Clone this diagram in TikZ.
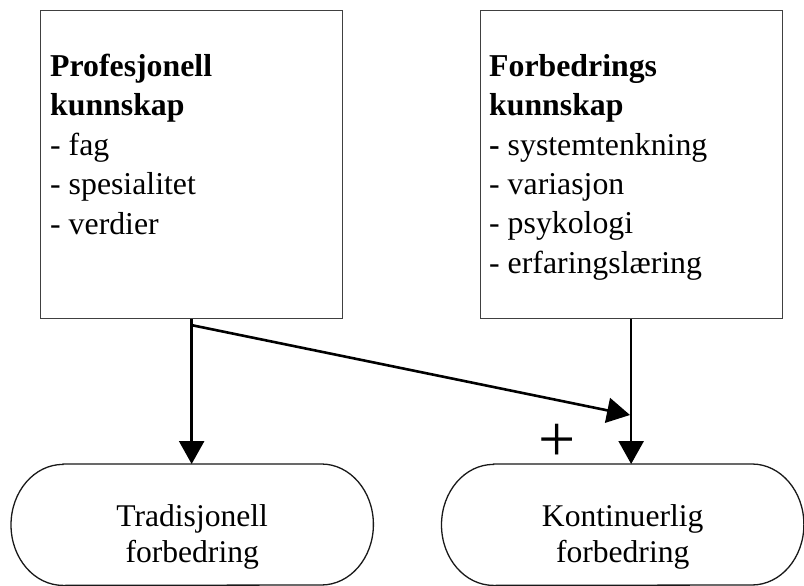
\documentclass[tikz,border=0pt]{standalone}
\usepackage{fontspec}
\setmainfont{Liberation Serif}
\usetikzlibrary{arrows.meta,calc}
\begin{document}
\begin{tikzpicture}[x=1pt,y=-1pt,
  txt/.style={font={\fontsize{31.8}{39.4}\selectfont}},
  ttxt/.style={font={\fontsize{31.6}{36}\selectfont}},
  kbox/.style={draw=black!75, line width=1.3pt, minimum width=302pt, minimum height=308pt, inner sep=0, anchor=north west},
  blk/.style={txt, align=left, anchor=north west, inner sep=0},
  term/.style={minimum width=362pt, minimum height=121pt, inner sep=0, anchor=north west},
  tline/.style={line width=1.3pt, black!90},
  conn/.style={line width=2.6pt, -{Triangle[length=23pt,width=25pt]}}]
\useasboundingbox (0,0) rectangle (804,586);
% boxes
\node[kbox] (P) at (40,10) {};
\node[kbox] (F) at (479.5,10) {};
\node[blk] (Pt) at (50,54) {\textbf{Profesjonell}\\\textbf{kunnskap}\\- fag\\- spesialitet\\- verdier};
\node[blk] (Ft) at (489,54) {\textbf{Forbedrings}\\\textbf{kunnskap}\\\textbf{-} systemtenkning\\- variasjon\\- psykologi\\- erfaringslæring};
% terminators
\node[term] (T) at (11,464) {};
\node[term] (K) at (441.5,464) {};
\foreach \n in {T,K}{
  \draw[tline] ([xshift=52pt]\n.north west) -- ([xshift=-52pt]\n.north east)
    arc[start angle=90, end angle=-90, x radius=52pt, y radius=60.5pt]
    -- ([xshift=52pt]\n.south west)
    arc[start angle=270, end angle=90, x radius=52pt, y radius=60.5pt] -- cycle;
}
\node[ttxt, align=center] (Tt) at ([yshift=-12pt]T.center) {Tradisjonell\\forbedring};
\node[ttxt, align=center] (Kt) at ([yshift=-12pt]K.center) {Kontinuerlig\\forbedring};
% connectors
\coordinate (s) at (191,325);
\coordinate (m) at (630,415);
\draw[conn] (P.south) -- (P.south |- T.north);
\draw[conn] (F.south) -- (F.south |- K.north);
\draw[conn] (s) -- (m);
\node[font={\fontsize{66}{70}\selectfont}, inner sep=0] (plus) at (557,443) {+};
\end{tikzpicture}
\end{document}
